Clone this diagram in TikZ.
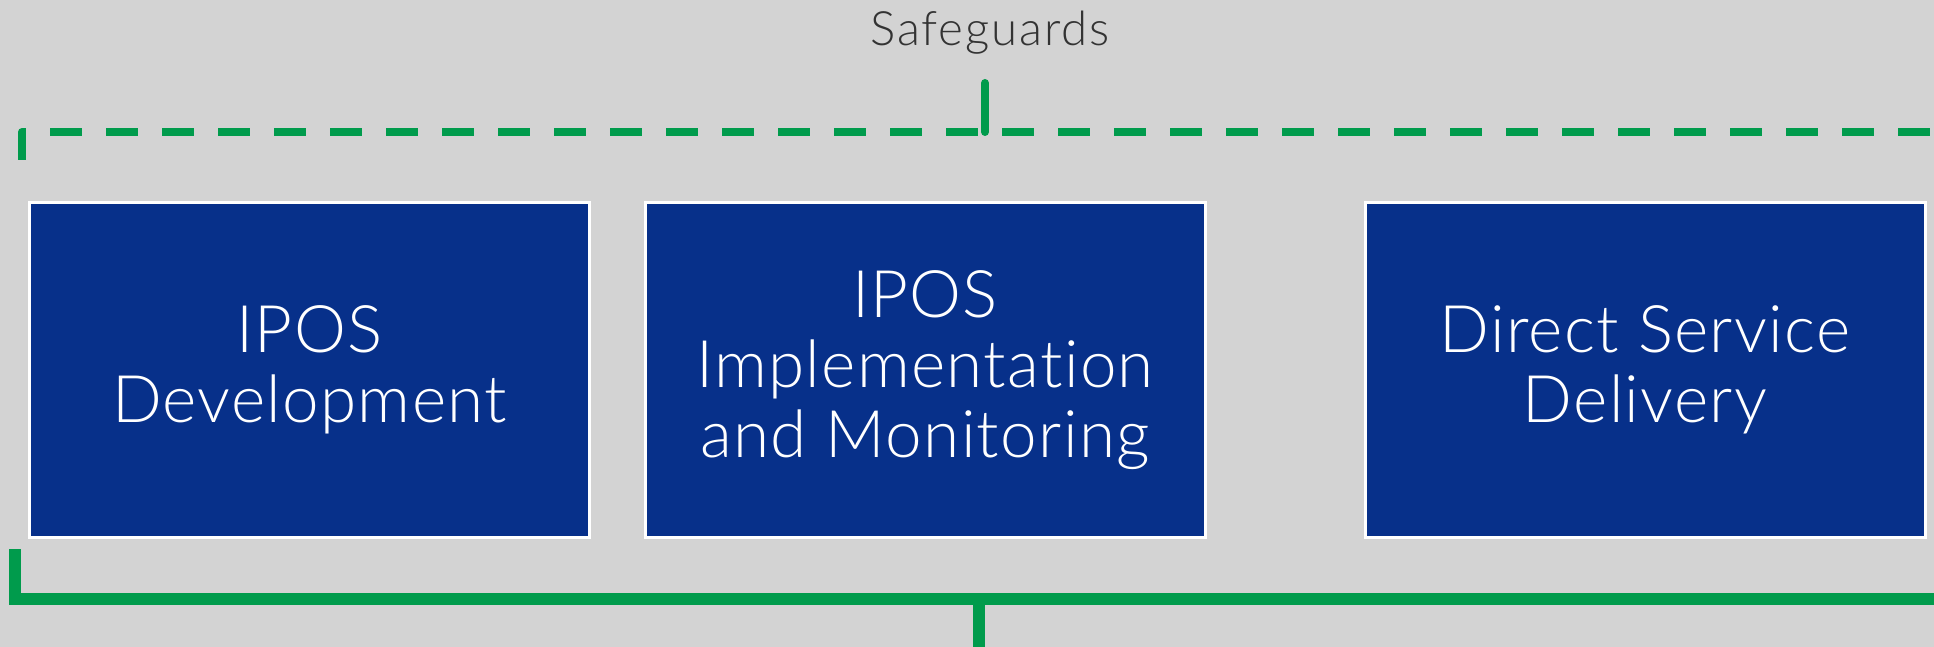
\documentclass[tikz,border=0pt]{standalone}
\usepackage{fontspec}
\setmainfont{Lato}
\newfontfamily\stagefont{Lato Light}[LetterSpace=2,Ligatures=NoCommon]
\newfontfamily\guardfont{Lato Light}[LetterSpace=4,Ligatures=NoCommon]
\usepackage{tikz}
\usepackage{xcolor}
\definecolor{panelgray}{HTML}{D3D3D3}
\definecolor{stageblue}{HTML}{07308A}
\definecolor{guardgreen}{HTML}{009B4C}
\definecolor{labelgray}{HTML}{333333}
\begin{document}
\begin{tikzpicture}[x=0.5pt,y=-0.5pt,
  stage/.style={rectangle,draw=white,line width=1.5pt,fill=stageblue,text=white,
    minimum width=280pt,minimum height=167.5pt,align=center,inner sep=0pt,
    font=\stagefont\fontsize{32.8}{35}\selectfont},
  guard/.style={guardgreen,line width=4pt,dash pattern=on 16pt off 12pt,line join=round},
  base/.style={guardgreen,line width=6pt}]
\useasboundingbox (0,0) rectangle (1934,647);
\fill[panelgray] (0,0) rectangle (1934,647);
\node [anchor=base,text=labelgray,font=\guardfont\fontsize{23.7}{28}\selectfont] (safe) at (990,46) {Safeguards};
\node [stage] (dev) at (309.5,370) {IPOS\\Development};
\node [stage] (impl) at (925,370) {IPOS\\Implementation\\and Monitoring};
\node [stage] (dsd) at (1645,370) {Direct Service\\Delivery};
% dashed bracket over the stages
\coordinate (gl) at (22,160);
\coordinate (gc) at (22,132);
\coordinate (gr) at (1934,132);
\coordinate (gt) at (985,83);
\coordinate (gm) at (985,132);
\draw [guard] (gl) -- (gc) -- (gr);
\draw [guardgreen,line width=4pt,line cap=round] (gt) -- (gm);
% solid bracket under the stages
\coordinate (bl) at (15,549);
\coordinate (bc) at (15,599);
\coordinate (br) at (1934,599);
\coordinate (bm) at (978.5,599);
\coordinate (bb) at (978.5,647);
\draw [base] (bl) -- (bc) -- (br);
\draw [base] (bm) -- (bb);
\end{tikzpicture}
\end{document}
